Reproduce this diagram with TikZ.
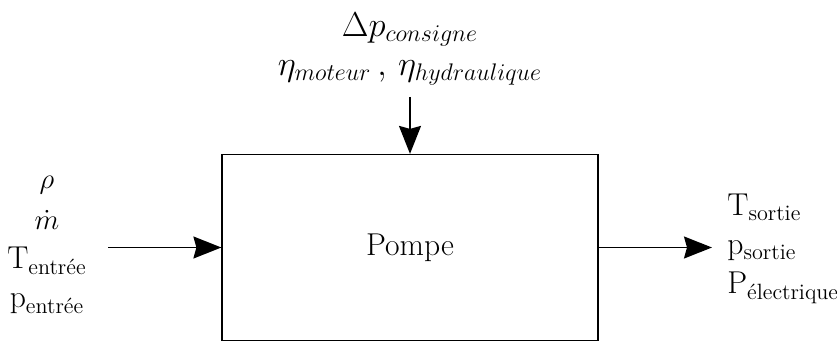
\documentclass[tikz,border=0pt]{standalone}
\usepackage{amsmath}
\usetikzlibrary{arrows.meta}
\tikzset{>={Stealth[length=14pt,width=11pt,inset=1.5pt]}}
\tikzset{
  bloc/.style={draw,line width=0.6pt,minimum width=188pt,minimum height=93pt,inner sep=0pt},
  lab/.style={align=center,inner sep=0pt,font=\fontsize{15.8}{19.5}\selectfont},
  fl/.style={->,line width=0.8pt}
}

\begin{document}
\begin{tikzpicture}[x=0.5pt,y=-0.5pt]
  \useasboundingbox (0,0) rectangle (837,342);

  % bloc central
  \node[bloc,lab] (pompe) at (410,247.5) {Pompe};

  % entrees / sorties
  \node[lab] (entree) at (47,245) {$\rho$\\[1pt]$\dot m$\\T$_{\text{entrée}}$\\p$_{\text{entrée}}$};
  \node[lab,align=left,anchor=west] (sortie) at (727,249) {T$_{\text{sortie}}$\\p$_{\text{sortie}}$\\P$_{\text{électrique}}$};
  \node[lab,font=\fontsize{17.5}{19.5}\selectfont] (consigne) at (410,49) {$\Delta p_{consigne}$\\$\eta_{moteur}\,,\,\eta_{hydraulique}$};

  % points libres des fleches
  \coordinate (in) at (108,247.5);
  \coordinate (out) at (712,247.5);
  \coordinate (haut) at (410,97);

  % fleches
  \draw[fl] (in) -- (pompe.west);
  \draw[fl] (pompe.east) -- (out);
  \draw[fl] (haut) -- (pompe.north);
\end{tikzpicture}
\end{document}
